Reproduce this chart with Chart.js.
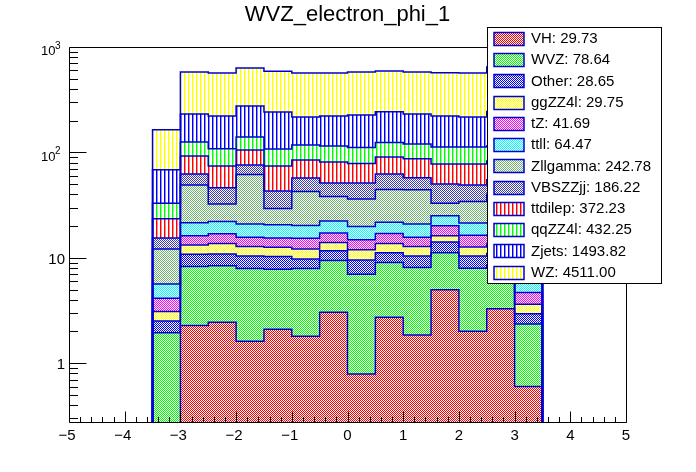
<!DOCTYPE html>
<html><head><meta charset="utf-8">
<script src="https://cdn.jsdelivr.net/npm/chart.js@4.4.0/dist/chart.umd.min.js"></script>
<style>html,body{margin:0;padding:0;background:#fff;overflow:hidden}canvas{display:block}</style>
</head><body>
<canvas id="c" width="696" height="472"></canvas>
<script>
// ---------------- data ----------------
const chartTitle = 'WVZ_electron_phi_1';
const binEdges = [-3.5,-3,-2.5,-2,-1.5,-1,-0.5,0,0.5,1,1.5,2,2.5,3,3.5];
const xTickValues = [-5,-4,-3,-2,-1,0,1,2,3,4,5];
const xTickLabels = ['\u22125','\u22124','\u22123','\u22122','\u22121','0','1','2','3','4','5'];
const yTickValues = [1,10,100,1000];
const yTickBase = ['1','10','10','10'];
const yTickExp  = ['','','2','3'];
const seriesNames  = ['VH','WVZ','Other','ggZZ4l','tZ','ttll','Zllgamma','VBSZZjj','ttdilep','qqZZ4l','Zjets','WZ'];
const legendTotals = ['29.73','78.64','28.65','29.75','41.69','64.47','242.78','186.22','372.23','432.25','1493.82','4511.00'];
// per-bin contents (bins -3.5 .. 3.5, width 0.5), stacked bottom -> top
const VH       = [0, 2.28, 2.45, 1.62, 2.10, 1.80, 3.05, 0.79, 2.73, 1.85, 4.97, 2.01, 3.28, 0.60];
const WVZ      = [1.95, 5.99, 5.95, 6.28, 5.71, 6.10, 6.38, 6.21, 6.30, 6.24, 6.23, 5.97, 5.22, 1.75];
const Other    = [0.57, 2.53, 2.50, 2.50, 2.49, 1.82, 2.27, 2.51, 2.17, 2.31, 2.90, 2.42, 2.50, 0.59];
const ggZZ4l   = [0.57, 2.40, 2.80, 2.40, 2.30, 2.38, 2.30, 2.39, 2.50, 2.40, 2.10, 2.30, 2.50, 0.69];
const tZ       = [1.05, 3.00, 3.20, 2.90, 2.80, 3.20, 3.20, 2.90, 3.30, 2.90, 3.90, 3.70, 3.00, 1.05];
const ttll     = [1.49, 5.30, 5.20, 5.20, 5.20, 5.00, 5.10, 5.00, 4.80, 5.20, 4.90, 5.00, 5.00, 1.82];
const Zllgamma = [6.47, 27.5, 10.3, 40.9, 8.80, 22.3, 15.9, 16.3, 22.7, 23.3, 8.00, 12.9, 18.5, 7.50];
const VBSZZjj  = [3.30, 13.4, 13.8, 14.1, 13.6, 14.5, 13.0, 15.1, 17.9, 13.3, 17.1, 14.7, 15.0, 4.00];
const ttdilep  = [8.10, 30.0, 28.1, 29.5, 31.3, 27.6, 29.9, 27.4, 28.0, 29.6, 27.5, 28.6, 28.0, 9.00];
const qqZZ4l   = [9.50, 33.2, 34.1, 34.6, 33.4, 32.9, 33.9, 33.0, 34.1, 32.9, 34.9, 34.9, 32.0, 11.0];
const Zjets    = [35.5, 105.4, 113.6, 136.0, 134.3, 99.4, 107.0, 115.4, 119.0, 111.0, 109.5, 104.5, 130.0, 65.0];
const WZ       = [95.5, 349.0, 346.0, 357.0, 346.0, 351.0, 346.0, 353.0, 349.5, 349.0, 349.0, 351.0, 400.0, 170.0];
const seriesValues = [VH, WVZ, Other, ggZZ4l, tZ, ttll, Zllgamma, VBSZZjj, ttdilep, qqZZ4l, Zjets, WZ];

// ---------------- styles ----------------
const Y_MIN = 0.277, Y_MAX = 1000, FLOOR = 1e-3;
const LINE_COLOR = '#0000d0';
const fillSpec = [
  ['checker','#ff0000'],['checker','#00ff00'],['checker','#0000ff'],['checker','#ffff00'],
  ['checker','#ff00ff'],['checker','#00ffff'],['checker','#70b070'],['checker','#3c3caa'],
  ['stripes','#ff0000'],['stripes','#00ff00'],['stripes','#0000ff'],['stripes','#ffff00']
];
function makePattern(kind, color){
  const c = document.createElement('canvas');
  const g = c.getContext('2d');
  if(kind==='checker'){
    c.width=2; c.height=2;
    g.fillStyle='#fff'; g.fillRect(0,0,2,2);
    g.fillStyle=color; g.fillRect(0,0,1,1); g.fillRect(1,1,1,1);
  } else {
    c.width=4; c.height=1;
    g.fillStyle='#fff'; g.fillRect(0,0,4,1);
    g.fillStyle=color; g.fillRect(0,0,1,1);
    g.globalAlpha=0.45; g.fillRect(1,0,1,1); g.globalAlpha=1;
  }
  return g.createPattern(c,'repeat');
}
const patterns = fillSpec.map(s=>makePattern(s[0],s[1]));

// ---------------- build stacked step datasets ----------------
const nb = binEdges.length-1;
const cum = [];
seriesValues.forEach((vals,i)=>{
  cum.push(vals.map((v,b)=> (i>0?cum[i-1][b]:0) + v));
});
const datasets = cum.map((c,i)=>{
  const pts = [{x:binEdges[0], y:FLOOR}];
  for(let b=0;b<nb;b++) pts.push({x:binEdges[b], y:Math.max(c[b],FLOOR)});
  pts.push({x:binEdges[nb], y:Math.max(c[nb-1],FLOOR)});
  pts.push({x:binEdges[nb], y:FLOOR});
  return {
    label: seriesNames[i],
    data: pts,
    stepped: 'before',
    borderColor: LINE_COLOR,
    borderWidth: 1.5,
    backgroundColor: patterns[i],
    fill: i===0 ? 'start' : '-1',
    pointRadius: 0,
    tension: 0
  };
});

// ---------------- decoration plugin (frame, ticks, labels, title, legend) ----------------
const decor = {
  id:'decor',
  afterDraw(chart){
    const {ctx, chartArea:a, scales:{x, y}} = chart;
    const L=Math.round(a.left)+0.5, R=Math.round(a.right)+0.5, T=Math.round(a.top)+0.5, B=Math.round(a.bottom)+0.5;
    ctx.save();
    ctx.strokeStyle='#000'; ctx.lineWidth=1;
    ctx.beginPath();
    ctx.moveTo(L,T); ctx.lineTo(R,T); ctx.lineTo(R,B); ctx.lineTo(L,B); ctx.closePath();
    // x ticks
    for(let k=-50;k<=50;k+=2){
      const v=k/10; const px=Math.round(x.getPixelForValue(v))+0.5;
      const len = (k%10===0)?11:5.5;
      ctx.moveTo(px,B); ctx.lineTo(px,B-len);
    }
    // y ticks
    for(let e=-1;e<=3;e++){
      for(let m=1;m<=9;m++){
        const v=m*Math.pow(10,e);
        if(v<Y_MIN-1e-9||v>Y_MAX+1e-9) continue;
        const py=Math.round(y.getPixelForValue(v))+0.5;
        const len=(m===1)?17:8.5;
        ctx.moveTo(L,py); ctx.lineTo(L+len,py);
      }
    }
    ctx.stroke();
    // x labels
    ctx.fillStyle='#000';
    ctx.font='15px "Liberation Sans", Arial, sans-serif';
    ctx.textAlign='center'; ctx.textBaseline='alphabetic';
    xTickValues.forEach((v,i)=>{
      ctx.fillText(xTickLabels[i], x.getPixelForValue(v)-(v<0?2:0), 440);
    });
    // y labels
    yTickValues.forEach((v,i)=>{
      const py=y.getPixelForValue(v);
      if(yTickExp[i]===''){
        ctx.font='15px "Liberation Sans", Arial, sans-serif';
        ctx.textAlign='right';
        ctx.fillText(yTickBase[i], 65, py+6);
      } else {
        ctx.font='13px "Liberation Sans", Arial, sans-serif';
        ctx.textAlign='right';
        ctx.fillText(yTickBase[i], 55.5, py+8.3);
        ctx.font='10px "Liberation Sans", Arial, sans-serif';
        ctx.textAlign='left';
        ctx.fillText(yTickExp[i], 55, py+1.8);
      }
    });
    // title
    ctx.font='22px "Liberation Sans", Arial, sans-serif';
    ctx.textAlign='center';
    ctx.fillText(chartTitle, 347.5, 21);
    // legend
    const lx=487.5, ly=27.5, lw=174, lh=256;
    ctx.fillStyle='#fff'; ctx.fillRect(lx,ly,lw,lh);
    ctx.strokeStyle='#000'; ctx.lineWidth=1; ctx.strokeRect(lx,ly,lw,lh);
    ctx.font='15px "Liberation Sans", Arial, sans-serif';
    ctx.textAlign='left';
    for(let i=0;i<seriesNames.length;i++){
      const top = 31.7 + 21.27*i;
      const sx=494, sw=30, sh=13;
      const sy=Math.round(top)+0.5;
      ctx.fillStyle=patterns[i];
      ctx.fillRect(sx,sy,sw,sh);
      ctx.strokeStyle=LINE_COLOR; ctx.lineWidth=1.5;
      ctx.strokeRect(sx,sy,sw,sh);
      ctx.fillStyle='#000';
      ctx.fillText(seriesNames[i]+': '+legendTotals[i], 531, top+11.3);
    }
    ctx.restore();
  }
};

new Chart(document.getElementById('c'), {
  type:'line',
  data:{datasets},
  options:{
    responsive:false,
    devicePixelRatio:1,
    animation:false,
    layout:{padding:{left:69, top:47, right:70, bottom:50}},
    scales:{
      x:{type:'linear', min:-5, max:5, display:false},
      y:{type:'logarithmic', min:Y_MIN, max:Y_MAX, display:false}
    },
    plugins:{
      legend:{display:false},
      tooltip:{enabled:false},
      title:{display:false},
      filler:{propagate:false, drawTime:'beforeDatasetsDraw'}
    }
  },
  plugins:[decor]
});
</script>
</body></html>
